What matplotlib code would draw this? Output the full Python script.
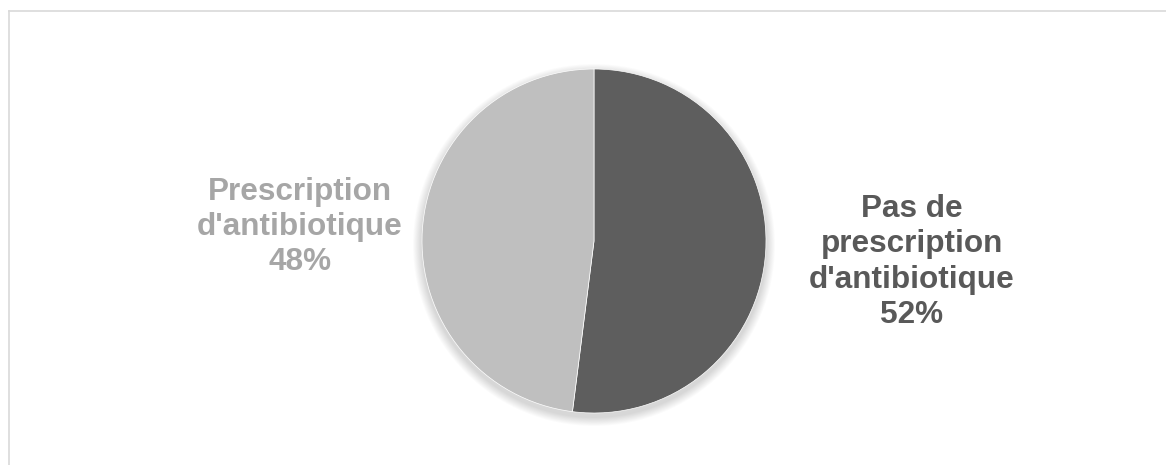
import matplotlib
matplotlib.use("Agg")
import matplotlib.pyplot as plt
from matplotlib.patches import Circle
from matplotlib.lines import Line2D

labels = ["Pas de\nprescription\nd'antibiotique", "Prescription\nd'antibiotique"]
values = [52, 48]
colors = ["#5e5e5e", "#bfbfbf"]
label_colors = ["#595959", "#a6a6a6"]

W, H = 1166, 465
fig = plt.figure(figsize=(W / 100, H / 100), dpi=100)
fig.patch.set_facecolor("white")
ax = fig.add_axes([0, 0, 1, 1])
ax.set_xlim(0, W)
ax.set_ylim(0, H)
ax.set_aspect("equal")
ax.axis("off")

cx, cy, r = 594, H - 241, 172

# soft shadow
for k in range(10, 0, -1):
    ax.add_patch(Circle((cx, cy - 4), r + k * 0.9, facecolor="black",
                        alpha=0.014, edgecolor="none", zorder=0))

ax.pie(values, colors=colors, startangle=90, counterclock=False,
       center=(cx, cy), radius=r, frame=True,
       wedgeprops=dict(edgecolor="white", linewidth=0.5))
ax.set_xlim(0, W)
ax.set_ylim(0, H)
ax.axis("off")

label_pos = [(912, H - 262), (300, H - 227)]
for lab, v, c, (x, y) in zip(labels, values, label_colors, label_pos):
    ax.text(x, y, f"{lab}\n{v}%", ha="center", va="center", color=c,
            fontsize=22.7, fontweight="bold", family="Liberation Sans",
            linespacing=1.22)

# chart border (cropped)
fig.add_artist(Line2D([8.5 / W, 1.0], [1 - 11.5 / H, 1 - 11.5 / H],
                      transform=fig.transFigure, color="#d9d9d9", lw=1.2))
fig.add_artist(Line2D([8.5 / W, 8.5 / W], [0, 1 - 11.5 / H],
                      transform=fig.transFigure, color="#d9d9d9", lw=1.2))

fig.savefig("out.png", dpi=100, facecolor="white")
